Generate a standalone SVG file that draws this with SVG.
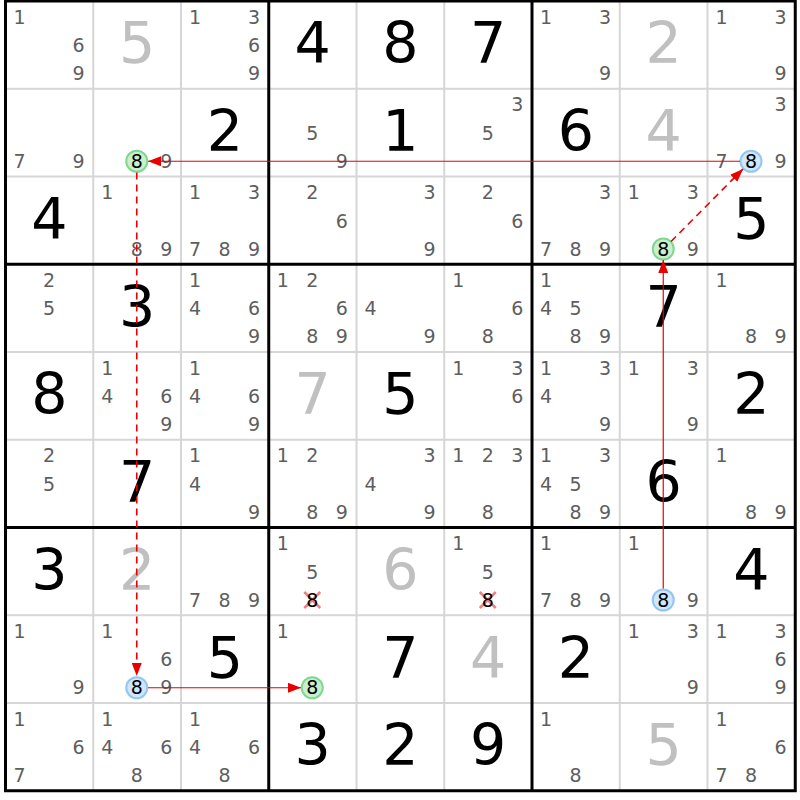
<svg xmlns="http://www.w3.org/2000/svg" width="800" height="800" viewBox="0 0 800 800">
<style>
text{font-family:"DejaVu Sans",Verdana,sans-serif;text-anchor:middle}
.c{font-size:19px;fill:#5e5e5e}
.k{font-size:19px;fill:#000}
.g{font-size:57px;fill:#000}
.s{font-size:57px;fill:#c0c0c0}
.thin{stroke:#d6d6d6;stroke-width:2}
.thick{stroke:#000;stroke-width:3}
.cg{fill:#c8f0cc;stroke:#80d890;stroke-width:2}
.cb{fill:#cfe6ff;stroke:#94c6f2;stroke-width:2}
.x{stroke:#f08080;stroke-width:2.5}
.ln{stroke:#e80000;stroke-width:1.2;fill:none}
.dash{stroke-dasharray:7,5;stroke-width:1.6}
</style>
<defs>
<marker id="ah" markerWidth="13" markerHeight="10" refX="13" refY="5" orient="auto" markerUnits="userSpaceOnUse"><path d="M0,0 L13,5 L0,10 z" fill="#e80000"/></marker>
</defs>
<rect x="0" y="0" width="800" height="800" fill="#fff"/>
<g id="grid">
<path class="thin" d="M93.25,1V790.75M181,1V790.75M356.5,1V790.75M444.25,1V790.75M619.75,1V790.75M707.5,1V790.75M5.5,88.75H795.25M5.5,176.5H795.25M5.5,352H795.25M5.5,439.75H795.25M5.5,615.25H795.25M5.5,703H795.25"/>
<path class="thick" d="M268.75,1V790.75M532,1V790.75M5.5,264.25H795.25M5.5,527.5H795.25"/>
<rect class="thick" x="5.5" y="1" width="789.75" height="789.75" fill="none"/>
</g>
<!-- Row 1 -->
<g id="r1c1" transform="translate(5.5,1)"><text class="c" x="14" y="22.5">1</text><text class="c" x="73" y="51">6</text><text class="c" x="73" y="79">9</text></g>
<g id="r1c2" transform="translate(93.25,1)"><text class="s" x="43.9" y="62.3">5</text></g>
<g id="r1c3" transform="translate(181,1)"><text class="c" x="14" y="22.5">1</text><text class="c" x="73" y="22.5">3</text><text class="c" x="73" y="51">6</text><text class="c" x="73" y="79">9</text></g>
<g id="r1c4" transform="translate(268.75,1)"><text class="g" x="43.9" y="62.3">4</text></g>
<g id="r1c5" transform="translate(356.5,1)"><text class="g" x="43.9" y="62.3">8</text></g>
<g id="r1c6" transform="translate(444.25,1)"><text class="g" x="43.9" y="62.3">7</text></g>
<g id="r1c7" transform="translate(532,1)"><text class="c" x="14" y="22.5">1</text><text class="c" x="73" y="22.5">3</text><text class="c" x="73" y="79">9</text></g>
<g id="r1c8" transform="translate(619.75,1)"><text class="s" x="43.9" y="62.3">2</text></g>
<g id="r1c9" transform="translate(707.5,1)"><text class="c" x="14" y="22.5">1</text><text class="c" x="73" y="22.5">3</text><text class="c" x="73" y="79">9</text></g>
<!-- Row 2 -->
<g id="r2c1" transform="translate(5.5,88.75)"><text class="c" x="14" y="79">7</text><text class="c" x="73" y="79">9</text></g>
<g id="r2c2" transform="translate(93.25,88.75)"><circle class="cg" cx="43.5" cy="72.5" r="10.5"/><text class="k" x="43.5" y="79">8</text><text class="c" x="73" y="79">9</text></g>
<g id="r2c3" transform="translate(181,88.75)"><text class="g" x="43.9" y="62.3">2</text></g>
<g id="r2c4" transform="translate(268.75,88.75)"><text class="c" x="43.5" y="51">5</text><text class="c" x="73" y="79">9</text></g>
<g id="r2c5" transform="translate(356.5,88.75)"><text class="g" x="43.9" y="62.3">1</text></g>
<g id="r2c6" transform="translate(444.25,88.75)"><text class="c" x="73" y="22.5">3</text><text class="c" x="43.5" y="51">5</text></g>
<g id="r2c7" transform="translate(532,88.75)"><text class="g" x="43.9" y="62.3">6</text></g>
<g id="r2c8" transform="translate(619.75,88.75)"><text class="s" x="43.9" y="62.3">4</text></g>
<g id="r2c9" transform="translate(707.5,88.75)"><text class="c" x="73" y="22.5">3</text><text class="c" x="14" y="79">7</text><circle class="cb" cx="43.5" cy="72.5" r="10.5"/><text class="k" x="43.5" y="79">8</text><text class="c" x="73" y="79">9</text></g>
<!-- Row 3 -->
<g id="r3c1" transform="translate(5.5,176.5)"><text class="g" x="43.9" y="62.3">4</text></g>
<g id="r3c2" transform="translate(93.25,176.5)"><text class="c" x="14" y="22.5">1</text><text class="c" x="43.5" y="79">8</text><text class="c" x="73" y="79">9</text></g>
<g id="r3c3" transform="translate(181,176.5)"><text class="c" x="14" y="22.5">1</text><text class="c" x="73" y="22.5">3</text><text class="c" x="14" y="79">7</text><text class="c" x="43.5" y="79">8</text><text class="c" x="73" y="79">9</text></g>
<g id="r3c4" transform="translate(268.75,176.5)"><text class="c" x="43.5" y="22.5">2</text><text class="c" x="73" y="51">6</text></g>
<g id="r3c5" transform="translate(356.5,176.5)"><text class="c" x="73" y="22.5">3</text><text class="c" x="73" y="79">9</text></g>
<g id="r3c6" transform="translate(444.25,176.5)"><text class="c" x="43.5" y="22.5">2</text><text class="c" x="73" y="51">6</text></g>
<g id="r3c7" transform="translate(532,176.5)"><text class="c" x="73" y="22.5">3</text><text class="c" x="14" y="79">7</text><text class="c" x="43.5" y="79">8</text><text class="c" x="73" y="79">9</text></g>
<g id="r3c8" transform="translate(619.75,176.5)"><text class="c" x="14" y="22.5">1</text><text class="c" x="73" y="22.5">3</text><circle class="cg" cx="43.5" cy="72.5" r="10.5"/><text class="k" x="43.5" y="79">8</text><text class="c" x="73" y="79">9</text></g>
<g id="r3c9" transform="translate(707.5,176.5)"><text class="g" x="43.9" y="62.3">5</text></g>
<!-- Row 4 -->
<g id="r4c1" transform="translate(5.5,264.25)"><text class="c" x="43.5" y="22.5">2</text><text class="c" x="43.5" y="51">5</text></g>
<g id="r4c2" transform="translate(93.25,264.25)"><text class="g" x="43.9" y="62.3">3</text></g>
<g id="r4c3" transform="translate(181,264.25)"><text class="c" x="14" y="22.5">1</text><text class="c" x="14" y="51">4</text><text class="c" x="73" y="51">6</text><text class="c" x="73" y="79">9</text></g>
<g id="r4c4" transform="translate(268.75,264.25)"><text class="c" x="14" y="22.5">1</text><text class="c" x="43.5" y="22.5">2</text><text class="c" x="73" y="51">6</text><text class="c" x="43.5" y="79">8</text><text class="c" x="73" y="79">9</text></g>
<g id="r4c5" transform="translate(356.5,264.25)"><text class="c" x="14" y="51">4</text><text class="c" x="73" y="79">9</text></g>
<g id="r4c6" transform="translate(444.25,264.25)"><text class="c" x="14" y="22.5">1</text><text class="c" x="73" y="51">6</text><text class="c" x="43.5" y="79">8</text></g>
<g id="r4c7" transform="translate(532,264.25)"><text class="c" x="14" y="22.5">1</text><text class="c" x="14" y="51">4</text><text class="c" x="43.5" y="51">5</text><text class="c" x="43.5" y="79">8</text><text class="c" x="73" y="79">9</text></g>
<g id="r4c8" transform="translate(619.75,264.25)"><text class="g" x="43.9" y="62.3">7</text></g>
<g id="r4c9" transform="translate(707.5,264.25)"><text class="c" x="14" y="22.5">1</text><text class="c" x="43.5" y="79">8</text><text class="c" x="73" y="79">9</text></g>
<!-- Row 5 -->
<g id="r5c1" transform="translate(5.5,352)"><text class="g" x="43.9" y="62.3">8</text></g>
<g id="r5c2" transform="translate(93.25,352)"><text class="c" x="14" y="22.5">1</text><text class="c" x="14" y="51">4</text><text class="c" x="73" y="51">6</text><text class="c" x="73" y="79">9</text></g>
<g id="r5c3" transform="translate(181,352)"><text class="c" x="14" y="22.5">1</text><text class="c" x="14" y="51">4</text><text class="c" x="73" y="51">6</text><text class="c" x="73" y="79">9</text></g>
<g id="r5c4" transform="translate(268.75,352)"><text class="s" x="43.9" y="62.3">7</text></g>
<g id="r5c5" transform="translate(356.5,352)"><text class="g" x="43.9" y="62.3">5</text></g>
<g id="r5c6" transform="translate(444.25,352)"><text class="c" x="14" y="22.5">1</text><text class="c" x="73" y="22.5">3</text><text class="c" x="73" y="51">6</text></g>
<g id="r5c7" transform="translate(532,352)"><text class="c" x="14" y="22.5">1</text><text class="c" x="73" y="22.5">3</text><text class="c" x="14" y="51">4</text><text class="c" x="73" y="79">9</text></g>
<g id="r5c8" transform="translate(619.75,352)"><text class="c" x="14" y="22.5">1</text><text class="c" x="73" y="22.5">3</text><text class="c" x="73" y="79">9</text></g>
<g id="r5c9" transform="translate(707.5,352)"><text class="g" x="43.9" y="62.3">2</text></g>
<!-- Row 6 -->
<g id="r6c1" transform="translate(5.5,439.75)"><text class="c" x="43.5" y="22.5">2</text><text class="c" x="43.5" y="51">5</text></g>
<g id="r6c2" transform="translate(93.25,439.75)"><text class="g" x="43.9" y="62.3">7</text></g>
<g id="r6c3" transform="translate(181,439.75)"><text class="c" x="14" y="22.5">1</text><text class="c" x="14" y="51">4</text><text class="c" x="73" y="79">9</text></g>
<g id="r6c4" transform="translate(268.75,439.75)"><text class="c" x="14" y="22.5">1</text><text class="c" x="43.5" y="22.5">2</text><text class="c" x="43.5" y="79">8</text><text class="c" x="73" y="79">9</text></g>
<g id="r6c5" transform="translate(356.5,439.75)"><text class="c" x="73" y="22.5">3</text><text class="c" x="14" y="51">4</text><text class="c" x="73" y="79">9</text></g>
<g id="r6c6" transform="translate(444.25,439.75)"><text class="c" x="14" y="22.5">1</text><text class="c" x="43.5" y="22.5">2</text><text class="c" x="73" y="22.5">3</text><text class="c" x="43.5" y="79">8</text></g>
<g id="r6c7" transform="translate(532,439.75)"><text class="c" x="14" y="22.5">1</text><text class="c" x="73" y="22.5">3</text><text class="c" x="14" y="51">4</text><text class="c" x="43.5" y="51">5</text><text class="c" x="43.5" y="79">8</text><text class="c" x="73" y="79">9</text></g>
<g id="r6c8" transform="translate(619.75,439.75)"><text class="g" x="43.9" y="62.3">6</text></g>
<g id="r6c9" transform="translate(707.5,439.75)"><text class="c" x="14" y="22.5">1</text><text class="c" x="43.5" y="79">8</text><text class="c" x="73" y="79">9</text></g>
<!-- Row 7 -->
<g id="r7c1" transform="translate(5.5,527.5)"><text class="g" x="43.9" y="62.3">3</text></g>
<g id="r7c2" transform="translate(93.25,527.5)"><text class="s" x="43.9" y="62.3">2</text></g>
<g id="r7c3" transform="translate(181,527.5)"><text class="c" x="14" y="79">7</text><text class="c" x="43.5" y="79">8</text><text class="c" x="73" y="79">9</text></g>
<g id="r7c4" transform="translate(268.75,527.5)"><text class="c" x="14" y="22.5">1</text><text class="c" x="43.5" y="51">5</text><path class="x" d="M35.5,64.5L51.5,80.5M51.5,64.5L35.5,80.5"/><text class="k" x="43.5" y="79">8</text></g>
<g id="r7c5" transform="translate(356.5,527.5)"><text class="s" x="43.9" y="62.3">6</text></g>
<g id="r7c6" transform="translate(444.25,527.5)"><text class="c" x="14" y="22.5">1</text><text class="c" x="43.5" y="51">5</text><path class="x" d="M35.5,64.5L51.5,80.5M51.5,64.5L35.5,80.5"/><text class="k" x="43.5" y="79">8</text></g>
<g id="r7c7" transform="translate(532,527.5)"><text class="c" x="14" y="22.5">1</text><text class="c" x="14" y="79">7</text><text class="c" x="43.5" y="79">8</text><text class="c" x="73" y="79">9</text></g>
<g id="r7c8" transform="translate(619.75,527.5)"><text class="c" x="14" y="22.5">1</text><circle class="cb" cx="43.5" cy="72.5" r="10.5"/><text class="k" x="43.5" y="79">8</text><text class="c" x="73" y="79">9</text></g>
<g id="r7c9" transform="translate(707.5,527.5)"><text class="g" x="43.9" y="62.3">4</text></g>
<!-- Row 8 -->
<g id="r8c1" transform="translate(5.5,615.25)"><text class="c" x="14" y="22.5">1</text><text class="c" x="73" y="79">9</text></g>
<g id="r8c2" transform="translate(93.25,615.25)"><text class="c" x="14" y="22.5">1</text><text class="c" x="73" y="51">6</text><circle class="cb" cx="43.5" cy="72.5" r="10.5"/><text class="k" x="43.5" y="79">8</text><text class="c" x="73" y="79">9</text></g>
<g id="r8c3" transform="translate(181,615.25)"><text class="g" x="43.9" y="62.3">5</text></g>
<g id="r8c4" transform="translate(268.75,615.25)"><text class="c" x="14" y="22.5">1</text><circle class="cg" cx="43.5" cy="72.5" r="10.5"/><text class="k" x="43.5" y="79">8</text></g>
<g id="r8c5" transform="translate(356.5,615.25)"><text class="g" x="43.9" y="62.3">7</text></g>
<g id="r8c6" transform="translate(444.25,615.25)"><text class="s" x="43.9" y="62.3">4</text></g>
<g id="r8c7" transform="translate(532,615.25)"><text class="g" x="43.9" y="62.3">2</text></g>
<g id="r8c8" transform="translate(619.75,615.25)"><text class="c" x="14" y="22.5">1</text><text class="c" x="73" y="22.5">3</text><text class="c" x="73" y="79">9</text></g>
<g id="r8c9" transform="translate(707.5,615.25)"><text class="c" x="14" y="22.5">1</text><text class="c" x="73" y="22.5">3</text><text class="c" x="73" y="51">6</text><text class="c" x="73" y="79">9</text></g>
<!-- Row 9 -->
<g id="r9c1" transform="translate(5.5,703)"><text class="c" x="14" y="22.5">1</text><text class="c" x="73" y="51">6</text><text class="c" x="14" y="79">7</text></g>
<g id="r9c2" transform="translate(93.25,703)"><text class="c" x="14" y="22.5">1</text><text class="c" x="14" y="51">4</text><text class="c" x="73" y="51">6</text><text class="c" x="43.5" y="79">8</text></g>
<g id="r9c3" transform="translate(181,703)"><text class="c" x="14" y="22.5">1</text><text class="c" x="14" y="51">4</text><text class="c" x="73" y="51">6</text><text class="c" x="43.5" y="79">8</text></g>
<g id="r9c4" transform="translate(268.75,703)"><text class="g" x="43.9" y="62.3">3</text></g>
<g id="r9c5" transform="translate(356.5,703)"><text class="g" x="43.9" y="62.3">2</text></g>
<g id="r9c6" transform="translate(444.25,703)"><text class="g" x="43.9" y="62.3">9</text></g>
<g id="r9c7" transform="translate(532,703)"><text class="c" x="14" y="22.5">1</text><text class="c" x="43.5" y="79">8</text></g>
<g id="r9c8" transform="translate(619.75,703)"><text class="s" x="43.9" y="62.3">5</text></g>
<g id="r9c9" transform="translate(707.5,703)"><text class="c" x="14" y="22.5">1</text><text class="c" x="73" y="51">6</text><text class="c" x="14" y="79">7</text><text class="c" x="43.5" y="79">8</text></g>
<g id="connectors">
<line class="ln" x1="740" y1="161.25" x2="148" y2="161.25" marker-end="url(#ah)"/>
<line class="ln dash" x1="136.75" y1="172.5" x2="136.75" y2="676" marker-end="url(#ah)"/>
<line class="ln" x1="148" y1="687.75" x2="301" y2="687.75" marker-end="url(#ah)"/>
<line class="ln" x1="663.25" y1="588.5" x2="663.25" y2="260" marker-end="url(#ah)"/>
<line class="ln dash" x1="671" y1="241.5" x2="743" y2="169" marker-end="url(#ah)"/>
</g>
</svg>
